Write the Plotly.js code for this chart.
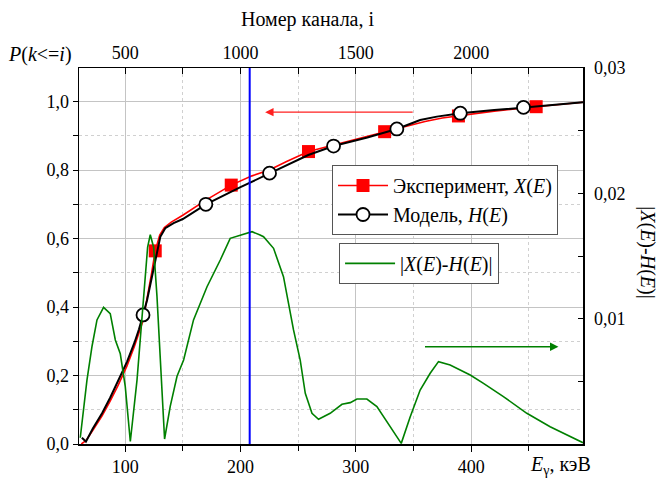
<!DOCTYPE html>
<html>
<head>
<meta charset="utf-8">
<script src="https://cdn.plot.ly/plotly-3.0.1.min.js"></script>
<style>html,body{margin:0;padding:0;background:#fff;}#chart{width:659px;height:479px;}</style>
</head>
<body>
<div id="chart"></div>
<script>
// Experiment X(E): line
const expE = [62, 66, 72, 80, 87, 94, 101.6, 108, 115.5, 120, 123, 126.1, 130, 134, 140, 150, 170, 192, 210, 225, 240, 259, 280, 300, 325, 345, 360, 375, 389, 420, 456, 497];
const expP = [0.0, 0.01, 0.04, 0.082, 0.125, 0.172, 0.228, 0.285, 0.36, 0.44, 0.5, 0.564, 0.61, 0.632, 0.648, 0.668, 0.712, 0.756, 0.783, 0.80, 0.825, 0.854, 0.872, 0.89, 0.912, 0.93, 0.942, 0.952, 0.958, 0.972, 0.985, 0.998];
// Experiment markers
const expMarkE = [126.1, 192, 259, 325, 389, 456.4];
const expMarkP = [0.564, 0.756, 0.854, 0.912, 0.958, 0.985];
// Model H(E): line
const modE = [62.5, 66, 72, 80, 87, 94, 101.6, 108, 112, 115.5, 119, 123.3, 127.6, 130.5, 134.8, 142, 150, 170, 200, 225.2, 258.8, 280.7, 310, 335.6, 355.8, 370.3, 390.6, 420, 445.4, 470, 497];
const modP = [0.018, 0.007, 0.045, 0.09, 0.135, 0.185, 0.24, 0.295, 0.335, 0.377, 0.42, 0.489, 0.562, 0.605, 0.63, 0.645, 0.657, 0.700, 0.75, 0.791, 0.844, 0.870, 0.895, 0.920, 0.946, 0.956, 0.966, 0.975, 0.983, 0.99, 0.998];
// Model markers
const modMarkE = [115.5, 170, 225.2, 280.7, 335.6, 390.6, 445.4];
const modMarkP = [0.377, 0.700, 0.791, 0.870, 0.920, 0.966, 0.983];
// |X(E)-H(E)| (right axis)
const diffE = [61.1, 66.9, 71.3, 75.6, 81.3, 87.1, 91.5, 95.8, 100.1, 104.5, 110.3, 116, 119.5, 121.8, 124.7, 127.6, 130.5, 134.2, 139.1, 145, 150.7, 159.3, 171, 182.5, 191.1, 199.8, 210, 217, 220, 228.7, 237.3, 246, 251.8, 256.2, 262, 267.7, 277.8, 288, 295.2, 301, 309.6, 318.3, 329.8, 339.4, 347.2, 355.8, 364.5, 371.7, 381.8, 399.2, 410.7, 428, 448.3, 468.5, 497];
const diffV = [0.0005, 0.0051, 0.0078, 0.0099, 0.0109, 0.0104, 0.0083, 0.0072, 0.0046, 0.0002, 0.0051, 0.0118, 0.0157, 0.0167, 0.0157, 0.0118, 0.0064, 0.0004, 0.003, 0.0054, 0.0067, 0.0099, 0.01255, 0.01468, 0.01641, 0.01668, 0.01694, 0.01668, 0.01654, 0.01561, 0.01335, 0.0091, 0.0067, 0.00404, 0.00245, 0.00197, 0.00245, 0.00317, 0.0033, 0.00359, 0.00359, 0.00298, 0.00138, 0.00005, 0.00218, 0.00431, 0.00564, 0.00657, 0.0063, 0.0055, 0.00484, 0.00378, 0.00245, 0.00138, 0.0001];
// Blue marker line (channel number)
const blueCh = [1040, 1040];
const blueP = [0, 1.098];
// Axis ranges / ticks
const eRange = [60, 497];
const chRange = [300, 2485];
const pRange = [0, 1.098];
const dRange = [0, 0.03];
const dTickVals = [0.01, 0.02, 0.03];
const dTickText = ['0,01', '0,02', '0,03'];
// Arrows
const redArrowFrom = [350.6, 0.969], redArrowTo = [221.4, 0.969];
const greenArrowFrom = [358.7, 0.00776], greenArrowTo = [475.7, 0.00776];

const FONT = "Liberation Serif";

const traces = [
  {x: blueCh, y: blueP, xaxis: 'x2', yaxis: 'y', mode: 'lines', line: {color: '#0000ff', width: 2}, showlegend: false, hoverinfo: 'skip'},
  {x: diffE, y: diffV, xaxis: 'x', yaxis: 'y2', mode: 'lines', line: {color: '#008000', width: 1.6}, name: '|<i>X</i>(<i>E</i>)-<i>H</i>(<i>E</i>)|', legend: 'legend2'},
  {x: expE, y: expP, mode: 'lines', line: {color: '#ff0000', width: 1.6}, showlegend: false},
  {x: expMarkE, y: expMarkP, mode: 'markers', marker: {symbol: 'square', size: 13, color: '#ff0000'}, showlegend: false},
  {x: modE, y: modP, mode: 'lines', line: {color: '#000000', width: 2}, showlegend: false},
  {x: modMarkE, y: modMarkP, mode: 'markers', marker: {symbol: 'circle', size: 13, color: '#ffffff', line: {color: '#000000', width: 1.8}}, showlegend: false},
  {x: [null], y: [null], mode: 'lines+markers', line: {color: '#ff0000', width: 1.6}, marker: {symbol: 'square', size: 13, color: '#ff0000'}, name: 'Эксперимент, <i>X</i>(<i>E</i>)', legend: 'legend'},
  {x: [null], y: [null], mode: 'lines+markers', line: {color: '#000000', width: 2}, marker: {symbol: 'circle', size: 13, color: '#ffffff', line: {color: '#000000', width: 1.8}}, name: 'Модель, <i>H</i>(<i>E</i>)', legend: 'legend'}
];

const layout = {
  width: 659, height: 479,
  margin: {l: 79, r: 76, t: 68, b: 35},
  paper_bgcolor: '#ffffff', plot_bgcolor: '#ffffff',
  font: {family: FONT, size: 18, color: '#000'},
  separators: ',.',
  xaxis: {
    range: eRange, tick0: 0, dtick: 100, ticks: 'outside', ticklen: 6, tickcolor: '#000', tickwidth: 1,
    showline: true, linecolor: '#000', linewidth: 1.5, zeroline: false,
    showgrid: true, gridcolor: '#c4c4c4', gridwidth: 1,
    minor: {tick0: 0, dtick: 50, ticks: 'outside', ticklen: 5, tickcolor: '#000', showgrid: true, gridcolor: '#d0d0d0', griddash: 'dot', gridwidth: 1},
    tickfont: {family: FONT, size: 18, color: '#000'}
  },
  xaxis2: {
    overlaying: 'x', side: 'top', anchor: 'y', range: chRange, tick0: 0, dtick: 500,
    ticks: 'inside', ticklen: 6, tickcolor: '#000', showline: true, linecolor: '#000', linewidth: 1.5,
    showgrid: false, zeroline: false,
    minor: {tick0: 0, dtick: 250, ticks: 'inside', ticklen: 6, tickcolor: '#000', showgrid: false},
    tickfont: {family: FONT, size: 18, color: '#000'}
  },
  yaxis: {
    range: pRange, tick0: 0, dtick: 0.2, tickformat: '.1f', ticks: 'outside', ticklen: 5, tickcolor: '#000',
    showline: true, linecolor: '#000', linewidth: 1.5, zeroline: false,
    showgrid: true, gridcolor: '#c4c4c4', gridwidth: 1,
    minor: {tick0: 0, dtick: 0.1, ticks: 'outside', ticklen: 5, tickcolor: '#000', showgrid: true, gridcolor: '#d0d0d0', griddash: 'dot'},
    tickfont: {family: FONT, size: 18, color: '#000'}
  },
  yaxis2: {
    overlaying: 'y', side: 'right', anchor: 'x', range: dRange,
    tickmode: 'array', tickvals: dTickVals, ticktext: dTickText,
    ticks: 'inside', ticklen: 5, tickcolor: '#000', ticklabelstandoff: 6,
    minor: {tickmode: 'linear', tick0: 0, dtick: 0.005, ticks: 'inside', ticklen: 5, tickcolor: '#000', showgrid: false},
    showline: true, linecolor: '#000', linewidth: 1.5, showgrid: false, zeroline: false,
    tickfont: {family: FONT, size: 18, color: '#000'}
  },
  legend: {
    x: 0.502, y: 0.742, xanchor: 'left', yanchor: 'top', bgcolor: '#ffffff', bordercolor: '#555', borderwidth: 1,
    font: {family: FONT, size: 20, color: '#000'}, itemwidth: 50, tracegroupgap: 0
  },
  legend2: {
    x: 0.516, y: 0.535, xanchor: 'left', yanchor: 'top', bgcolor: '#ffffff', bordercolor: '#555', borderwidth: 1,
    font: {family: FONT, size: 20, color: '#000'}, itemwidth: 50
  },
  annotations: [
    {xref: 'paper', yref: 'paper', x: 0.454, y: 1.128, text: 'Номер канала, i', showarrow: false, font: {family: FONT, size: 20}, xanchor: 'center', yanchor: 'middle'},
    {xref: 'paper', yref: 'paper', x: -0.145, y: 1.035, text: '<i>P</i>(<i>k</i>&lt;=<i>i</i>)', showarrow: false, font: {family: FONT, size: 20}, xanchor: 'left', yanchor: 'middle'},
    {xref: 'paper', yref: 'paper', x: 1.02, y: -0.058, text: '<i>E</i><sub>γ</sub>, кэВ', showarrow: false, font: {family: FONT, size: 20}, xanchor: 'right', yanchor: 'middle'},
    {xref: 'paper', yref: 'paper', x: 1.129, y: 0.51, text: '|<i>X</i>(<i>E</i>)-<i>H</i>(<i>E</i>)|', showarrow: false, font: {family: FONT, size: 20}, textangle: 90, xanchor: 'center', yanchor: 'middle'},
    {xref: 'x', yref: 'y', axref: 'x', ayref: 'y', x: redArrowTo[0], y: redArrowTo[1], ax: redArrowFrom[0], ay: redArrowFrom[1], text: '', showarrow: true, arrowhead: 2, arrowsize: 1.2, arrowwidth: 1.4, arrowcolor: '#ff2020'},
    {xref: 'x', yref: 'y2', axref: 'x', ayref: 'y2', x: greenArrowTo[0], y: greenArrowTo[1], ax: greenArrowFrom[0], ay: greenArrowFrom[1], text: '', showarrow: true, arrowhead: 2, arrowsize: 1.2, arrowwidth: 1.4, arrowcolor: '#008000'}
  ]
};

Plotly.newPlot('chart', traces, layout, {staticPlot: true, displayModeBar: false});
</script>
</body>
</html>
